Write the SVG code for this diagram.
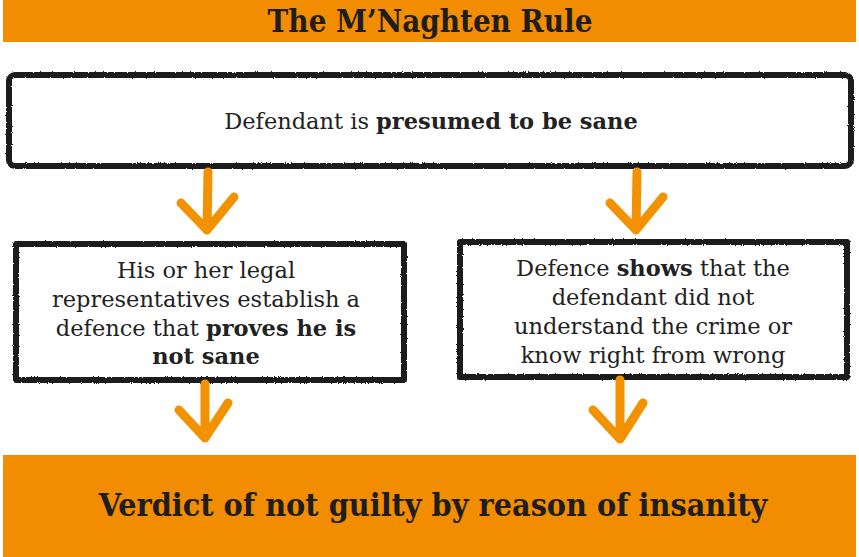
<svg xmlns="http://www.w3.org/2000/svg" width="859" height="557" viewBox="0 0 859 557">
<defs>
<filter id="rough" x="-5%" y="-5%" width="110%" height="110%">
<feTurbulence type="fractalNoise" baseFrequency="0.9" numOctaves="2" seed="3" result="n"/>
<feDisplacementMap in="SourceGraphic" in2="n" scale="2.5" xChannelSelector="R" yChannelSelector="G"/>
</filter>
</defs>
<style>
.band{fill:#F28C00}
.box{fill:#fff;stroke:#1a1a1a;stroke-width:6;stroke-linejoin:round}
.t{font-family:"DejaVu Serif","Liberation Serif",serif;font-size:22.5px;fill:#222;text-anchor:middle}
.b{font-weight:bold}
.h{font-family:"DejaVu Serif","Liberation Serif",serif;font-weight:bold;font-stretch:condensed;fill:#1e1e1e;text-anchor:middle}
.arr{fill:none;stroke:#F39200;stroke-width:9;stroke-linecap:round;stroke-linejoin:round}
</style>
<rect width="859" height="557" fill="#fff"/>
<g id="title">
<rect class="band" x="3" y="0" width="853" height="42"/>
<text class="h" x="430" y="32" font-size="31" font-stretch="condensed">The M’Naghten Rule</text>
</g>
<g id="presumed">
<rect class="box" x="9" y="75" width="842" height="91" rx="6" filter="url(#rough)"/>
<text class="t" x="431" y="129">Defendant is <tspan class="b">presumed to be sane</tspan></text>
</g>
<g id="proves">
<rect class="box" x="16" y="244" width="388" height="136" filter="url(#rough)"/>
<text class="t" x="206" y="278">His or her legal</text>
<text class="t" x="206" y="307">representatives establish a</text>
<text class="t" x="206" y="336">defence that <tspan class="b">proves he is</tspan></text>
<text class="t b" x="206" y="364">not sane</text>
</g>
<g id="shows">
<rect class="box" x="460" y="242" width="387" height="135" filter="url(#rough)"/>
<text class="t" x="653" y="276">Defence <tspan class="b">shows</tspan> that the</text>
<text class="t" x="653" y="305">defendant did not</text>
<text class="t" x="653" y="334">understand the crime or</text>
<text class="t" x="653" y="363">know right from wrong</text>
</g>
<g id="verdict">
<rect class="band" x="3" y="455" width="853" height="102"/>
<text class="h" x="433" y="516" font-size="32" font-stretch="condensed">Verdict of not guilty by reason of insanity</text>
</g>
<g id="connectors">
<path class="arr" d="M208,172 L207,230 M181,203 L207,230 L234,197"/>
<path class="arr" d="M637,172 L636,230 M610,203 L636,230 L663,197"/>
<path class="arr" d="M205,384 L205,438 M179,410 L205,438 L228,403"/>
<path class="arr" d="M620,380 L620,439 M593,410 L620,439 L643,403"/>
</g>
</svg>
